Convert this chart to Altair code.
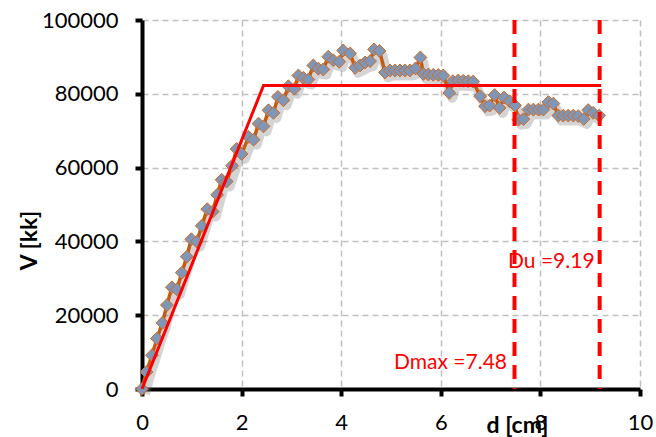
import altair as alt
import pandas as pd

d_cm = [0.00, 0.09, 0.20, 0.30, 0.41, 0.50, 0.60, 0.70, 0.80, 0.90, 0.99, 1.10, 1.20, 1.31, 1.42,
        1.51, 1.60, 1.70, 1.81, 1.90, 2.00, 2.14, 2.24, 2.34, 2.44, 2.54, 2.64, 2.73, 2.84, 2.94,
        3.06, 3.14, 3.24, 3.34, 3.44, 3.54, 3.64, 3.74, 3.84, 3.96, 4.04, 4.18, 4.28, 4.38, 4.48,
        4.58, 4.66, 4.77, 4.88, 4.98, 5.08, 5.18, 5.28, 5.38, 5.49, 5.59, 5.65, 5.75, 5.85, 5.95,
        6.05, 6.17, 6.24, 6.35, 6.45, 6.55, 6.65, 6.79, 6.89, 6.98, 7.08, 7.18, 7.27, 7.38, 7.49,
        7.56, 7.66, 7.76, 7.86, 7.96, 8.06, 8.16, 8.26, 8.36, 8.46, 8.56, 8.66, 8.76, 8.87, 8.96,
        9.06, 9.18]
v_kk = [0, 4620, 9160, 13690, 17930, 22740, 27550, 27010, 31520, 35860, 40590, 39940, 44210, 48740, 48090,
        52630, 56700, 56240, 60510, 65040, 63690, 68310, 67570, 71920, 71180, 75530, 74830, 79170, 78250, 82050,
        81350, 84960, 84330, 83870, 87680, 86780, 86590, 90040, 89120, 88680, 91750, 90940, 87050, 87680, 88490,
        88850, 92030, 91620, 85780, 86320, 86320, 86320, 86320, 86320, 86860, 89850, 85370, 85230, 85150, 85100,
        84960, 80260, 83410, 83600, 83520, 83410, 83330, 79340, 76620, 76810, 79660, 76180, 78980, 77980, 76810,
        73000, 73140, 75720, 75720, 75720, 75720, 77760, 77350, 74090, 74090, 74090, 74090, 73960, 73190, 75590,
        74830, 74090]

bilinear_d = [0.0, 2.44, 9.22]
bilinear_v = [0, 82240, 82240]

limit_d = [7.48, 9.19]

dmax_label = ["Dmax =7.48"]
dmax_pos = [7.33, 6980]
du_label = ["Du =9.19"]
du_pos = [7.35, 34420]

FONT = "Lato"

data = pd.DataFrame({"d": d_cm, "v": v_kk})
bil = pd.DataFrame({"d": bilinear_d, "v": bilinear_v})
lim = pd.DataFrame({"d": limit_d})
t1 = pd.DataFrame({"d": [dmax_pos[0]], "v": [dmax_pos[1]], "t": dmax_label})
t2 = pd.DataFrame({"d": [du_pos[0]], "v": [du_pos[1]], "t": du_label})

xs = alt.Scale(domain=[0, 10], nice=False)
ys = alt.Scale(domain=[0, 100000], nice=False)

xaxis = alt.Axis(values=[0, 2, 4, 6, 8, 10], title="d [cm]", titleX=375, titleY=36,
                 titleAlign="center", titleBaseline="middle", labelPadding=16,
                 labelFlush=False)
yaxis = alt.Axis(values=[0, 20000, 40000, 60000, 80000, 100000], format="d", title="V [kk]",
                 titleX=-113, titleY=220, titleAlign="center", titleBaseline="middle",
                 labelPadding=17, labelFlush=False)

base_x = alt.X("d:Q", scale=xs, axis=xaxis)
base_y = alt.Y("v:Q", scale=ys, axis=yaxis)

shadow = alt.Chart(data).mark_line(color="#707070", opacity=0.3, strokeWidth=10,
                                   xOffset=3, yOffset=5, strokeJoin="round").encode(
    x=base_x, y=base_y, order="d:Q")

line = alt.Chart(data).mark_line(color="#C55A11", strokeWidth=3.5).encode(
    x=base_x, y=base_y, order="d:Q")

pts = alt.Chart(data).mark_point(shape="diamond", size=165, filled=True, fill="#7F96B6",
                                 stroke="#D2691E", strokeWidth=1, opacity=1).encode(
    x=base_x, y=base_y)

bil_line = alt.Chart(bil).mark_line(color="#FF0000", strokeWidth=3).encode(
    x=base_x, y=base_y, order="d:Q")

rules = alt.Chart(lim).mark_rule(color="#FF0000", strokeWidth=4, strokeDash=[14, 9]).encode(
    x=base_x)

txt1 = alt.Chart(t1).mark_text(color="#FF0000", font=FONT, fontSize=21, align="right",
                               baseline="middle").encode(x=base_x, y=base_y, text="t:N")
txt2 = alt.Chart(t2).mark_text(color="#FF0000", font=FONT, fontSize=21, align="left",
                               baseline="middle").encode(x=base_x, y=base_y, text="t:N")

chart = alt.layer(shadow, line, pts, bil_line, rules, txt1, txt2).properties(
    width=498, height=369,
    padding={"left": 142, "top": 20, "right": 16, "bottom": 48},
    autosize="none",
).configure_view(strokeWidth=0).configure_axis(
    domainColor="black", domainWidth=4, tickColor="black", tickWidth=4, tickSize=7,
    gridColor="#BFBFBF", gridDash=[6, 4], gridWidth=1.5,
    labelFont=FONT, labelFontSize=22, labelColor="black",
    titleFont=FONT, titleFontSize=23, titleFontWeight="bold", titleColor="black",
)

chart.save("out.html", embed_options={"renderer": "svg", "actions": False})
